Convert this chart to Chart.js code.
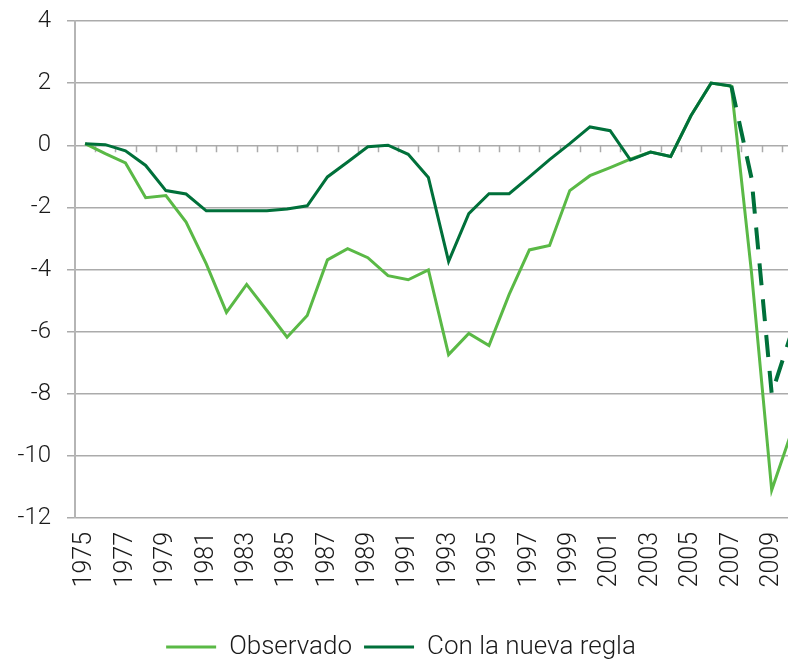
<!DOCTYPE html>
<html>
<head>
<meta charset="utf-8">
<script src="https://cdn.jsdelivr.net/npm/chart.js@4"></script>
<style>
  html, body { margin: 0; padding: 0; background: #fff; overflow: hidden; }
  #wrap { width: 788px; height: 659px; overflow: hidden; }
</style>
</head>
<body>
<div id="wrap"><canvas id="chart" width="802" height="670"></canvas></div>
<script>
// years on the category axis
const years = ['1975','1976','1977','1978','1979','1980','1981','1982','1983','1984','1985','1986',
               '1987','1988','1989','1990','1991','1992','1993','1994','1995','1996','1997','1998',
               '1999','2000','2001','2002','2003','2004','2005','2006','2007','2008','2009','2010'];

// series
const observado = [0.05, -0.27, -0.57, -1.69, -1.62, -2.47, -3.82, -5.38, -4.48, -5.32, -6.18, -5.48,
                   -3.69, -3.33, -3.62, -4.2, -4.33, -4.01, -6.74, -6.06, -6.45, -4.8, -3.37, -3.23,
                   -1.46, -0.98, -0.72, -0.45, -0.22, -0.36, 0.95, 2.0, 1.9, -4.1, -11.1, -9.2];

const nuevaRegla = [0.05, 0.02, -0.18, -0.65, -1.46, -1.57, -2.11, -2.11, -2.11, -2.11, -2.05, -1.95,
                    -1.02, -0.54, -0.05, 0.0, -0.29, -1.04, -3.74, -2.2, -1.56, -1.56, -1.02, -0.46,
                    0.05, 0.59, 0.47, -0.47, -0.22, -0.36, 0.95, 2.0, 1.91, -1.06, -8.0, -6.0];

// projection starts after this year (dashed part)
const projectionFrom = '2007';

const yTicks = [-12, -10, -8, -6, -4, -2, 0, 2, 4];

const LIGHT = '#5ab946';
const DARK = '#00703a';
const GRID = '#ababab';
const FONT = { family: 'Roboto, "Liberation Sans", sans-serif', weight: '300' };

// small tick marks on the zero line, between the years
const zeroTicks = {
    id: 'zeroTicks',
    beforeDatasetsDraw(chart) {
        const x = chart.scales.x, y = chart.scales.y;
        const y0 = y.getPixelForValue(0);
        const step = x.getPixelForValue(1) - x.getPixelForValue(0);
        const ctx = chart.ctx;
        ctx.save();
        ctx.strokeStyle = GRID;
        ctx.lineWidth = 1.5;
        ctx.beginPath();
        for (let i = 1; i < years.length; i++) {
            const px = Math.round(x.getPixelForValue(i) - step / 2) + 0.5;
            ctx.moveTo(px, y0);
            ctx.lineTo(px, y0 + 7);
        }
        ctx.stroke();
        ctx.restore();
    }
};

const dashIdx = years.indexOf(projectionFrom);

new Chart(document.getElementById('chart'), {
    type: 'line',
    data: {
        labels: years,
        datasets: [
            {
                label: 'Observado',
                data: observado,
                borderColor: LIGHT,
                backgroundColor: LIGHT,
                borderWidth: 3,
                pointRadius: 0,
                tension: 0,
                order: 1
            },
            {
                label: 'Con la nueva regla',
                data: nuevaRegla,
                borderColor: DARK,
                backgroundColor: DARK,
                borderWidth: 3,
                pointRadius: 0,
                tension: 0,
                order: 0,
                segment: {
                    borderDash: ctx => ctx.p0DataIndex >= dashIdx ? [22, 14] : undefined,
                    borderWidth: ctx => ctx.p0DataIndex >= dashIdx ? 4 : undefined
                }
            }
        ]
    },
    plugins: [zeroTicks],
    options: {
        responsive: false,
        animation: false,
        layout: { padding: { top: 21, right: 0, left: 0, bottom: 0 } },
        plugins: {
            tooltip: { enabled: false },
            legend: {
                position: 'bottom',
                labels: {
                    usePointStyle: true,
                    pointStyle: 'line',
                    pointStyleWidth: 50,
                    boxWidth: 50,
                    color: '#1a1a1a',
                    padding: 12,
                    font: { ...FONT, size: 26 },
                    sort: (a, b) => a.datasetIndex - b.datasetIndex
                }
            }
        },
        scales: {
            x: {
                type: 'category',
                offset: true,
                grid: { display: false, drawTicks: false },
                border: { display: false },
                afterFit: s => { s.height = 104; s.paddingLeft = 0; s.paddingRight = 0; },
                ticks: {
                    autoSkip: false,
                    minRotation: 90,
                    maxRotation: 90,
                    padding: 14,
                    color: '#1a1a1a',
                    font: { ...FONT, size: 25 },
                    callback: (v, i) => (i % 2 === 0 ? years[i] : '')
                }
            },
            y: {
                min: -12,
                max: 4,
                afterBuildTicks: s => { s.ticks = yTicks.map(v => ({ value: v })); },
                afterFit: s => { s.width = 75; s.paddingTop = 0; s.paddingBottom = 0; },
                grid: { color: GRID, lineWidth: 1.5, tickLength: 8 },
                border: { display: true, color: '#b5b5b5', width: 2 },
                ticks: {
                    padding: 16,
                    color: '#1a1a1a',
                    font: { ...FONT, size: 24 }
                }
            }
        }
    }
});
</script>
</body>
</html>
